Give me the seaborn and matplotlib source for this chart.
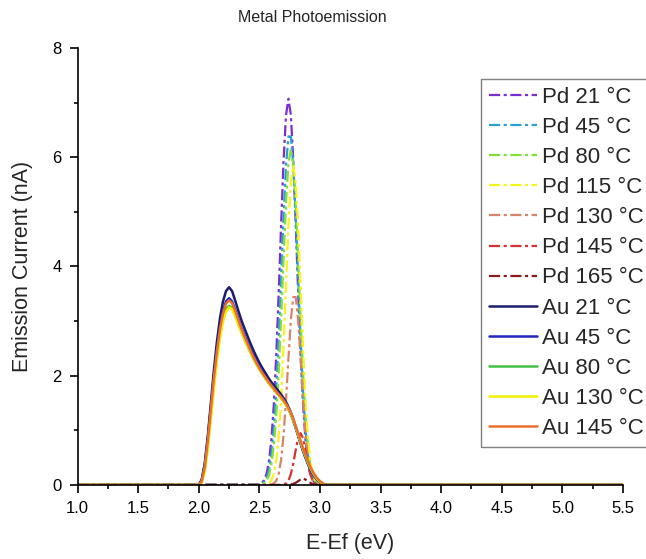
import numpy as np
import pandas as pd
import matplotlib
matplotlib.use("Agg")
import matplotlib.pyplot as plt
import seaborn as sns

# ---- data -------------------------------------------------------------
E_RANGE = (1.0, 5.5)

# energy grids (eV) covering the emission windows
energy_pd = np.round(np.arange(2.50, 3.0401, 0.02), 3)
energy_au = np.round(np.arange(2.000, 3.0501, 0.025), 3)

pd_labels = ["Pd 21 °C", "Pd 45 °C", "Pd 80 °C", "Pd 115 °C",
             "Pd 130 °C", "Pd 145 °C", "Pd 165 °C"]
au_labels = ["Au 21 °C", "Au 45 °C", "Au 80 °C", "Au 130 °C", "Au 145 °C"]

pd_21 = [0.01, 0.04, 0.09, 0.21, 0.44, 0.85, 1.49, 2.40, 3.54, 4.79, 5.95, 6.77, 7.07, 6.77,
         5.95, 4.79, 3.54, 2.40, 1.49, 0.85, 0.44, 0.21, 0.09, 0.04, 0.01, 0.00, 0.00, 0.00]
pd_45 = [0.01, 0.02, 0.06, 0.13, 0.28, 0.57, 1.04, 1.74, 2.69, 3.80, 4.92, 5.85, 6.38, 6.38,
         5.85, 4.92, 3.80, 2.69, 1.74, 1.04, 0.57, 0.28, 0.13, 0.06, 0.02, 0.01, 0.00, 0.00]
pd_80 = [0.00, 0.01, 0.03, 0.08, 0.18, 0.39, 0.74, 1.30, 2.08, 3.08, 4.17, 5.17, 5.89, 6.15,
         5.89, 5.17, 4.17, 3.08, 2.08, 1.30, 0.74, 0.39, 0.18, 0.08, 0.03, 0.01, 0.00, 0.00]
pd_115 = [0.00, 0.00, 0.00, 0.01, 0.03, 0.09, 0.21, 0.46, 0.90, 1.59, 2.54, 3.66, 4.75, 5.55,
          5.85, 5.55, 4.75, 3.66, 2.54, 1.59, 0.90, 0.46, 0.21, 0.09, 0.03, 0.01, 0.00, 0.00]
pd_130 = [0.00, 0.00, 0.00, 0.00, 0.00, 0.01, 0.03, 0.08, 0.21, 0.47, 0.92, 1.56, 2.32, 3.02,
          3.44, 3.44, 3.02, 2.32, 1.56, 0.92, 0.47, 0.21, 0.08, 0.03, 0.01, 0.00, 0.00, 0.00]
pd_145 = [0.00, 0.00, 0.00, 0.00, 0.00, 0.00, 0.00, 0.00, 0.00, 0.00, 0.00, 0.03, 0.08, 0.20,
          0.39, 0.64, 0.86, 0.95, 0.86, 0.64, 0.39, 0.20, 0.08, 0.03, 0.00, 0.00, 0.00, 0.00]
pd_165 = [0.00, 0.00, 0.00, 0.00, 0.00, 0.00, 0.00, 0.00, 0.00, 0.00, 0.00, 0.00, 0.00, 0.01,
          0.02, 0.04, 0.07, 0.10, 0.12, 0.10, 0.07, 0.04, 0.02, 0.01, 0.00, 0.00, 0.00, 0.00]

au_21 = [0.00, 0.10, 0.40, 0.90, 1.50, 2.10, 2.62, 3.05, 3.36, 3.55, 3.62, 3.55, 3.38, 3.20,
         3.03, 2.88, 2.74, 2.60, 2.47, 2.35, 2.24, 2.14, 2.05, 1.96, 1.88, 1.81, 1.74, 1.67,
         1.59, 1.50, 1.38, 1.24, 1.06, 0.88, 0.70, 0.54, 0.40, 0.28, 0.18, 0.10, 0.05, 0.02, 0.00]
au_45 = [0.00, 0.09, 0.37, 0.85, 1.42, 1.99, 2.48, 2.89, 3.18, 3.36, 3.42, 3.36, 3.21, 3.05,
         2.89, 2.75, 2.62, 2.49, 2.37, 2.26, 2.16, 2.07, 1.98, 1.90, 1.83, 1.76, 1.69, 1.62,
         1.55, 1.46, 1.35, 1.21, 1.04, 0.87, 0.69, 0.53, 0.39, 0.27, 0.17, 0.10, 0.05, 0.02, 0.00]
au_80 = [0.00, 0.06, 0.30, 0.75, 1.30, 1.86, 2.35, 2.76, 3.05, 3.22, 3.28, 3.24, 3.11, 2.96,
         2.81, 2.68, 2.55, 2.43, 2.32, 2.21, 2.12, 2.03, 1.95, 1.87, 1.80, 1.73, 1.67, 1.60,
         1.53, 1.45, 1.34, 1.21, 1.05, 0.88, 0.71, 0.55, 0.41, 0.29, 0.19, 0.11, 0.06, 0.02, 0.00]
au_130 = [0.00, 0.04, 0.24, 0.66, 1.20, 1.76, 2.26, 2.68, 2.99, 3.17, 3.25, 3.22, 3.10, 2.95,
          2.81, 2.68, 2.55, 2.43, 2.32, 2.21, 2.12, 2.03, 1.95, 1.87, 1.80, 1.73, 1.67, 1.60,
          1.53, 1.45, 1.35, 1.22, 1.07, 0.90, 0.73, 0.57, 0.43, 0.30, 0.20, 0.12, 0.06, 0.03, 0.00]
au_145 = [0.00, 0.07, 0.33, 0.80, 1.38, 1.95, 2.44, 2.85, 3.14, 3.32, 3.38, 3.33, 3.19, 3.03,
          2.87, 2.73, 2.60, 2.47, 2.35, 2.24, 2.14, 2.05, 1.97, 1.89, 1.82, 1.75, 1.68, 1.62,
          1.55, 1.47, 1.37, 1.24, 1.08, 0.91, 0.74, 0.58, 0.44, 0.31, 0.21, 0.13, 0.07, 0.03, 0.00]

pd_values = [pd_21, pd_45, pd_80, pd_115, pd_130, pd_145, pd_165]
au_values = [au_21, au_45, au_80, au_130, au_145]

pd_colors = ["#7b2fcc", "#2a9fd6", "#7fe03c", "#f6f41e", "#d98468", "#d63232", "#8a1c1c"]
au_colors = ["#1c1c6c", "#2424c0", "#44c044", "#f5ef00", "#e8702e"]

# ---- long-form table --------------------------------------------------
rows = []
def add_series(name, metal, grid, values):
    xs = np.concatenate([[E_RANGE[0]], grid, [E_RANGE[1]]])
    ys = np.concatenate([[0.0], values, [0.0]])
    for x, y in zip(xs, ys):
        rows.append({"series": name, "metal": metal, "E": x, "I": y})

for name, vals in zip(pd_labels, pd_values):
    add_series(name, "Pd", energy_pd, vals)
for name, vals in zip(au_labels, au_values):
    add_series(name, "Au", energy_au, vals)
df = pd.DataFrame(rows)

# ---- figure -----------------------------------------------------------
sns.set_theme(style="ticks")
plt.rcParams["font.family"] = ["Liberation Sans", "DejaVu Sans"]

fig = plt.figure(figsize=(6.46, 5.59), dpi=100)
ax = fig.add_axes([0.120, 0.1324, 0.8444, 0.7818])

dash_dot = (0, (5, 1.6, 1.4, 1.6))
for name, c in zip(pd_labels, pd_colors):
    sns.lineplot(data=df[df["series"] == name], x="E", y="I", ax=ax, color=c,
                 linestyle=dash_dot, linewidth=1.6, label=name, sort=False,
                 estimator=None)
for name, c in zip(au_labels, au_colors):
    sns.lineplot(data=df[df["series"] == name], x="E", y="I", ax=ax, color=c,
                 linewidth=1.8, label=name, sort=False, estimator=None)

ax.set_xlim(*E_RANGE)
ax.set_ylim(0, 8)
ax.set_xticks(np.arange(1.0, 5.51, 0.5))
ax.set_xticks(np.arange(1.25, 5.5, 0.5), minor=True)
ax.set_yticks([0, 2, 4, 6, 8])
ax.set_yticks([1, 3, 5, 7], minor=True)
ax.set_xticklabels([f"{v:.1f}" for v in np.arange(1.0, 5.51, 0.5)])
ax.tick_params(axis="both", which="major", direction="out", length=5.5, width=1.2,
               labelsize=12, colors="black", pad=6)
ax.tick_params(axis="both", which="minor", direction="out", length=3, width=1.2,
               colors="black")
for side in ("top", "right"):
    ax.spines[side].set_visible(False)
for side in ("left", "bottom"):
    ax.spines[side].set_linewidth(1.2)
    ax.spines[side].set_color("black")
ax.grid(False)

ax.set_xlabel("E-Ef (eV)", fontsize=15.5, labelpad=12)
ax.set_ylabel("Emission Current (nA)", fontsize=15.5, labelpad=14)
fig.text(312 / 646, 1 - 18 / 559, "Metal Photoemission", ha="center", va="center",
         fontsize=11.5)

leg = ax.legend(loc="upper left", bbox_to_anchor=(481 / 646, 1 - 79 / 559),
                bbox_transform=fig.transFigure, borderaxespad=0, fontsize=16,
                handlelength=2.15, handletextpad=0.25, labelspacing=0.41,
                borderpad=0.35, fancybox=False, framealpha=1, edgecolor="#7f7f7f")
leg.get_frame().set_linewidth(1.0)

fig.savefig("out.png", dpi=100)
